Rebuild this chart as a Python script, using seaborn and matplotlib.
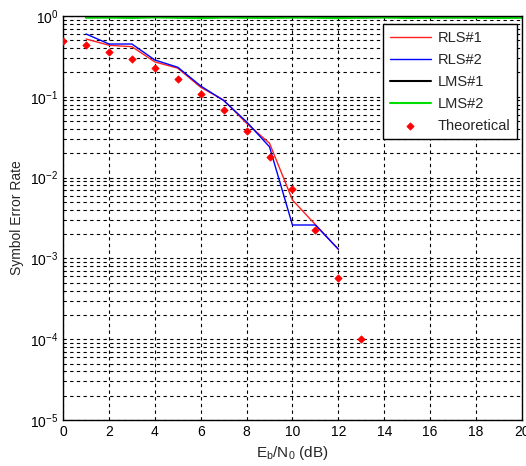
import numpy as np
import pandas as pd
import matplotlib
matplotlib.use('Agg')
import matplotlib.pyplot as plt
import seaborn as sns
from matplotlib.ticker import LogLocator, FixedLocator

# Data
snr_theory = [0, 1, 2, 3, 4, 5, 6, 7, 8, 9, 10, 11, 12, 13]
ser_theory = [0.494, 0.434, 0.355, 0.291, 0.229, 0.164, 0.109, 0.0687, 0.0377,
              0.0178, 0.00716, 0.00224, 5.67e-4, 1.0e-4]

snr_rls = [1, 2, 3, 4, 5, 6, 7, 8, 9, 10, 11, 12]
ser_rls1 = [0.519, 0.434, 0.417, 0.27, 0.226, 0.131, 0.091, 0.047, 0.0266,
            0.00528, 0.00262, 0.0013]
ser_rls2 = [0.599, 0.45, 0.45, 0.285, 0.232, 0.136, 0.09, 0.049, 0.024,
            0.00259, 0.00259, 0.0013]

snr_lms = [1, 2, 3, 4, 5, 6, 7, 8, 9, 10, 11, 12, 13, 14, 15, 16, 17, 18, 19, 20]
ser_lms1 = [0.975, 0.97, 0.98, 0.985, 0.97, 0.965, 0.975, 0.97, 0.98, 0.972,
            0.97, 0.976, 0.965, 0.97, 0.974, 0.97, 0.965, 0.975, 0.97, 0.97]
ser_lms2 = [0.95, 0.955, 0.945, 0.96, 0.95, 0.94, 0.955, 0.95, 0.945, 0.955,
            0.95, 0.94, 0.952, 0.958, 0.945, 0.95, 0.955, 0.948, 0.945, 0.95]

sns.set_style('white')
plt.rcParams['font.family'] = ['Liberation Sans', 'DejaVu Sans']
plt.rcParams['mathtext.fontset'] = 'custom'
plt.rcParams['mathtext.rm'] = 'Liberation Sans'
plt.rcParams['mathtext.it'] = 'Liberation Sans'

fig = plt.figure(figsize=(5.26, 4.66), dpi=100)
ax = fig.add_axes([0.12, 0.0987, 0.872, 0.867])

sns.lineplot(x=snr_rls, y=ser_rls1, ax=ax, color='#ff2020', lw=1.0, label='RLS#1')
sns.lineplot(x=snr_rls, y=ser_rls2, ax=ax, color='#0000ff', lw=1.0, label='RLS#2')
sns.lineplot(x=snr_lms, y=ser_lms1, ax=ax, color='black', lw=1.5, label='LMS#1')
sns.lineplot(x=snr_lms, y=ser_lms2, ax=ax, color='#00dd00', lw=1.5, label='LMS#2')
sns.scatterplot(x=snr_theory, y=ser_theory, ax=ax, color='red', marker='D', s=14,
                edgecolor='red', linewidth=0.5, label='Theoretical', zorder=5)

ax.set_yscale('log')
ax.set_xlim(0, 20)
ax.set_ylim(1e-5, 1)
ax.xaxis.set_major_locator(FixedLocator([0, 2, 4, 6, 8, 10, 12, 14, 16, 18, 20]))
ax.yaxis.set_major_locator(LogLocator(base=10, numticks=10))
ax.yaxis.set_minor_locator(LogLocator(base=10, subs=np.arange(2, 10), numticks=20))

ax.grid(True, which='major', axis='both', color='black', linestyle=(0, (3, 3)), lw=0.8)
ax.grid(True, which='minor', axis='y', color='black', linestyle=(0, (3, 3)), lw=0.8)
ax.tick_params(which='both', direction='in', labelsize=10, colors='black')
ax.tick_params(which='minor', axis='x', length=0)
for s in ax.spines.values():
    s.set_color('black')
    s.set_linewidth(1.0)

ax.set_xlabel(r'E$_\mathrm{b}$/N$_\mathrm{0}$ (dB)', fontsize=11)
ax.set_ylabel('Symbol Error Rate', fontsize=10)

leg = ax.legend(loc='upper right', bbox_to_anchor=(0.989, 0.980), borderaxespad=0,
                fancybox=False, framealpha=1, edgecolor='black', fontsize=10.5,
                handlelength=2.8, handletextpad=0.45, borderpad=0.45,
                labelspacing=0.55)
leg.get_frame().set_linewidth(1.0)

fig.savefig('out.png', dpi=100)
